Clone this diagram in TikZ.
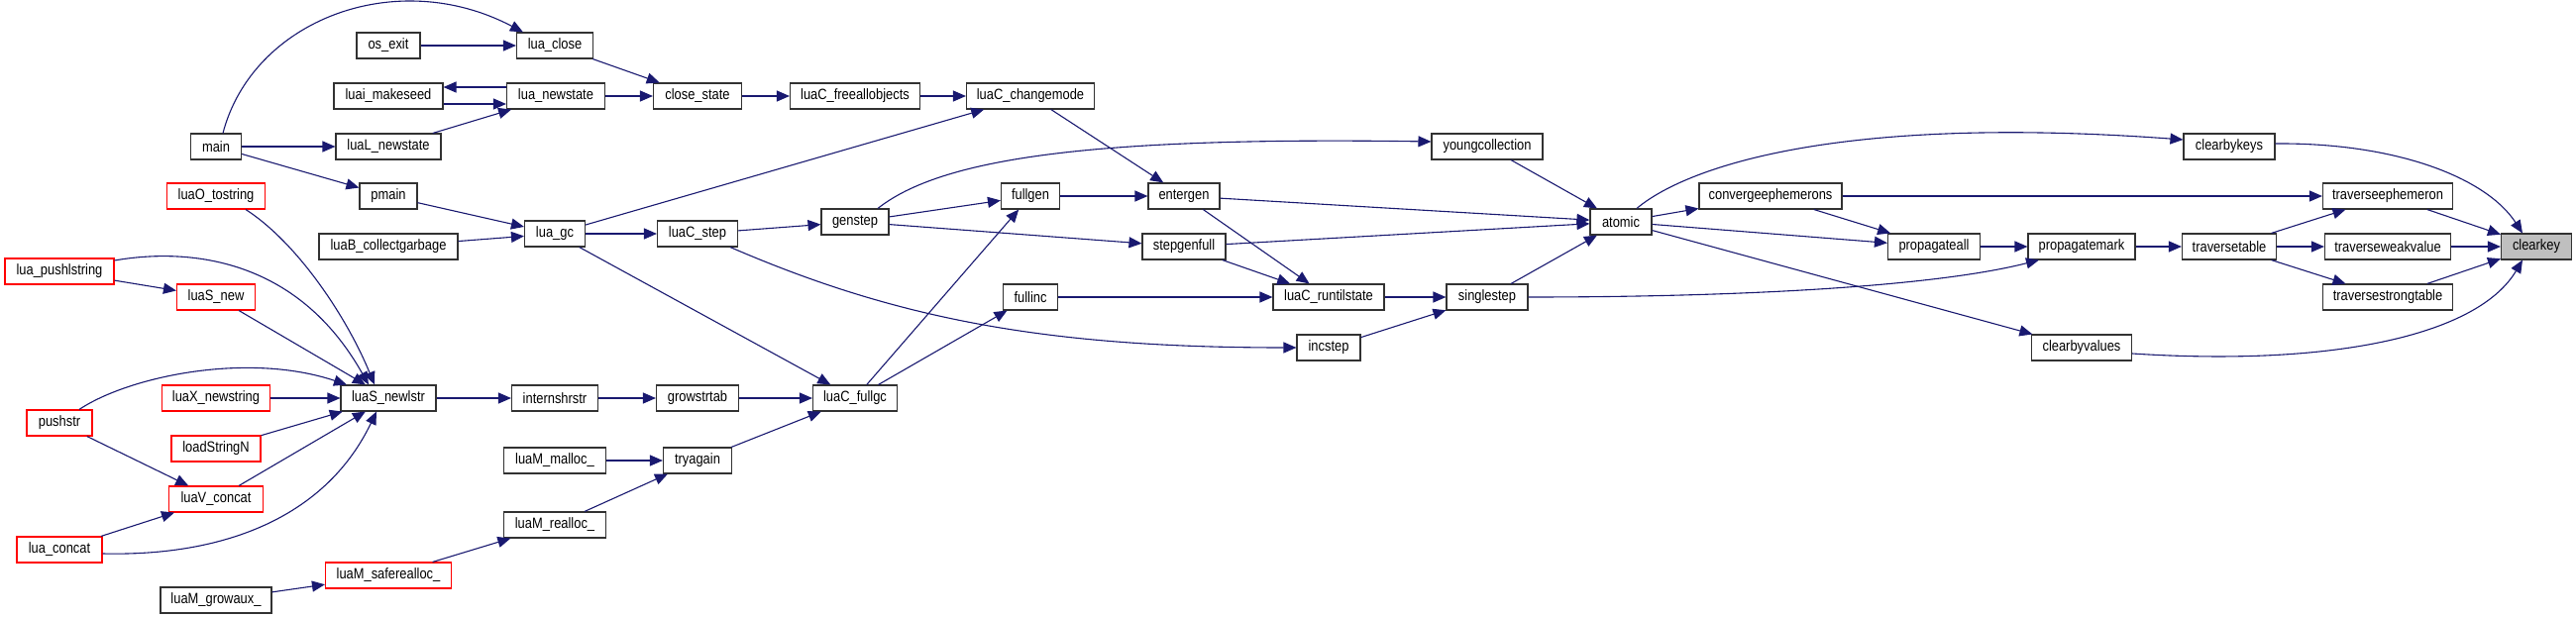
\documentclass[tikz,border=0pt]{standalone}
\usepackage{fontspec}
\setmainfont[FakeStretch=0.86]{Liberation Sans}
\usetikzlibrary{arrows.meta}
\definecolor{edgec}{RGB}{25,25,112}
\definecolor{nodeb}{RGB}{50,50,50}
\definecolor{hil}{RGB}{191,191,191}
\begin{document}
\begin{tikzpicture}[x=1pt,y=-1pt,
  fn/.style={draw=nodeb, line width=1.1pt, fill=white, minimum height=26pt, inner sep=0pt, font=\fontsize{15}{17}\selectfont},
  fnred/.style={fn, draw=red},
  arr/.style={draw=edgec, line width=1.1pt, -{Triangle[length=13pt,width=11pt]}}]
\useasboundingbox[fill=white] (0,0) rectangle (2600,623);
% nodes
\node[fn,minimum width=77pt] (luaclose) at (560,46) {lua\_close};
\node[fn,minimum width=64pt] (osexit) at (392,46) {os\_exit};
\node[fn,minimum width=110pt] (luaimakeseed) at (392,97) {luai\_makeseed};
\node[fn,minimum width=99pt] (luanewstate) at (561,97) {lua\_newstate};
\node[fn,minimum width=51pt] (main) at (218,148) {main};
\node[fn,minimum width=106pt] (luaLnewstate) at (392,148) {luaL\_newstate};
\node[fnred,minimum width=99pt] (luaOtostring) at (218,198) {luaO\_tostring};
\node[fn,minimum width=58pt] (pmain) at (392,198) {pmain};
\node[fn,minimum width=61pt] (luagc) at (560,236) {lua\_gc};
\node[fn,minimum width=140pt] (luaBcollect) at (392,249) {luaB\_collectgarbage};
\node[fnred,minimum width=110pt] (luapushlstring) at (60,274) {lua\_pushlstring};
\node[fnred,minimum width=79pt] (luaSnew) at (218,300) {luaS\_new};
\node[fn,minimum width=96pt] (luaSnewlstr) at (392,402) {luaS\_newlstr};
\node[fnred,minimum width=109pt] (luaXnewstring) at (218,402) {luaX\_newstring};
\node[fn,minimum width=87pt] (internshrstr) at (560,402) {internshrstr};
\node[fnred,minimum width=66pt] (pushstr) at (60,427) {pushstr};
\node[fnred,minimum width=90pt] (loadStringN) at (218,453) {loadStringN};
\node[fnred,minimum width=95pt] (luaVconcat) at (218,504) {luaV\_concat};
\node[fn,minimum width=103pt] (luaMmalloc) at (560,465) {luaM\_malloc\_};
\node[fn,minimum width=103pt] (luaMrealloc) at (560,530) {luaM\_realloc\_};
\node[fnred,minimum width=86pt] (luaconcat) at (60,555) {lua\_concat};
\node[fnred,minimum width=127pt] (luaMsaferealloc) at (392,581) {luaM\_saferealloc\_};
\node[fn,minimum width=112pt] (luaMgrowaux) at (218,606) {luaM\_growaux\_};
\node[fn,minimum width=89pt] (closestate) at (704,97) {close\_state};
\node[fn,minimum width=131pt] (luaCfreeall) at (863,97) {luaC\_freeallobjects};
\node[fn,minimum width=129pt] (luaCchangemode) at (1040,97) {luaC\_changemode};
\node[fn,minimum width=59pt] (fullgen) at (1040,198) {fullgen};
\node[fn,minimum width=72pt] (entergen) at (1195,198) {entergen};
\node[fn,minimum width=68pt] (genstep) at (863,224) {genstep};
\node[fn,minimum width=81pt] (luaCstep) at (704,236) {luaC\_step};
\node[fn,minimum width=84pt] (stepgenfull) at (1195,249) {stepgenfull};
\node[fn,minimum width=55pt] (fullinc) at (1040,300) {fullinc};
\node[fn,minimum width=83pt] (growstrtab) at (704,402) {growstrtab};
\node[fn,minimum width=85pt] (luaCfullgc) at (863,402) {luaC\_fullgc};
\node[fn,minimum width=69pt] (tryagain) at (704,465) {tryagain};
\node[fn,minimum width=64pt] (incstep) at (1341,351) {incstep};
\node[fn,minimum width=112pt] (youngcollection) at (1501,148) {youngcollection};
\node[fn,minimum width=62pt] (atomic) at (1636,224) {atomic};
\node[fn,minimum width=144pt] (converge) at (1787,198) {convergeephemerons};
\node[fn,minimum width=112pt] (luaCruntilstate) at (1341,300) {luaC\_runtilstate};
\node[fn,minimum width=82pt] (singlestep) at (1501,300) {singlestep};
\node[fn,minimum width=93pt] (propagateall) at (1952,249) {propagateall};
\node[fn,minimum width=92pt] (clearbykeys) at (2250,148) {clearbykeys};
\node[fn,minimum width=131pt] (travephemeron) at (2410,198) {traverseephemeron};
\node[fn,minimum width=108pt] (propagatemark) at (2101,249) {propagatemark};
\node[fn,minimum width=95pt] (traversetable) at (2250,249) {traversetable};
\node[fn,minimum width=127pt] (travweak) at (2410,249) {traverseweakvalue};
\node[fn,minimum width=71pt,fill=hil] (clearkey) at (2560,249) {clearkey};
\node[fn,minimum width=131pt] (travstrong) at (2410,300) {traversestrongtable};
\node[fn,minimum width=101pt] (clearbyvalues) at (2101,351) {clearbyvalues};
% edges
\draw[arr] ([yshift=3pt]clearbykeys.east) .. controls (2420,144) and (2510,180) .. ([xshift=-14pt]clearkey.north);
\draw[arr] (travephemeron) -- (clearkey);
\draw[arr] (travweak) -- (clearkey);
\draw[arr] (travstrong) -- (clearkey);
\draw[arr] ([yshift=-6pt]clearbyvalues.east) .. controls (2350,370) and (2500,340) .. ([xshift=-14pt]clearkey.south);
\draw[arr] (traversetable) -- (travephemeron);
\draw[arr] (traversetable) -- (travweak);
\draw[arr] (traversetable) -- (travstrong);
\draw[arr] (propagatemark) -- (traversetable);
\draw[arr] (propagateall) -- (propagatemark);
\draw[arr] (singlestep.east) .. controls (1750,300) and (1950,290) .. ([xshift=-43pt]propagatemark.south);
\draw[arr] ([xshift=16pt]atomic.north) .. controls (1700,170) and (1850,115) .. ([yshift=7pt]clearbykeys.west);
\draw[arr] (converge) -- (travephemeron);
\draw[arr] (converge) -- (propagateall);
\draw[arr] (atomic) -- (converge);
\draw[arr] (atomic) -- (propagateall);
\draw[arr] (atomic) -- (clearbyvalues);
\draw[arr] (youngcollection) -- (atomic);
\draw[arr] (entergen) -- (atomic);
\draw[arr] (stepgenfull) -- (atomic);
\draw[arr] (singlestep) -- (atomic);
\draw[arr] (luaCruntilstate) -- (singlestep);
\draw[arr] (incstep) -- (singlestep);
\draw[arr] (fullinc) -- (luaCruntilstate);
\draw[arr] (entergen) -- (luaCruntilstate);
\draw[arr] (stepgenfull) -- (luaCruntilstate);
\draw[arr] ([xshift=23pt]genstep.north) .. controls (950,160) and (1100,138) .. ([yshift=5pt]youngcollection.west);
\draw[arr] (genstep) -- (fullgen);
\draw[arr] (genstep) -- (stepgenfull);
\draw[arr] (fullgen) -- (entergen);
\draw[arr] (luaCchangemode) -- (entergen);
\draw[arr] (luaCstep) -- (genstep);
\draw[arr] ([xshift=33pt]luaCstep.south) .. controls (900,320) and (1050,351) .. (incstep.west);
\draw[arr] (luaCfullgc) -- (fullgen);
\draw[arr] (luaCfullgc) -- (fullinc);
\draw[arr] (luagc) -- (luaCchangemode);
\draw[arr] (luagc) -- (luaCstep);
\draw[arr] (luagc) -- (luaCfullgc);
\draw[arr] (growstrtab) -- (luaCfullgc);
\draw[arr] (tryagain) -- (luaCfullgc);
\draw[arr] (internshrstr) -- (growstrtab);
\draw[arr] (luaSnewlstr) -- (internshrstr);
\draw[arr] (luaMmalloc) -- (tryagain);
\draw[arr] (luaMrealloc) -- (tryagain);
\draw[arr] (luaMsaferealloc) -- (luaMrealloc);
\draw[arr] (luaMgrowaux) -- (luaMsaferealloc);
\draw[arr] (luaCfreeall) -- (luaCchangemode);
\draw[arr] (closestate) -- (luaCfreeall);
\draw[arr] (luaclose) -- (closestate);
\draw[arr] (luanewstate) -- (closestate);
\draw[arr] (osexit) -- (luaclose);
\draw[arr] ([xshift=7pt]main.north) .. controls (255,20) and (400,-35) .. ([xshift=-32pt]luaclose.north);
\draw[arr] ([yshift=9pt]luanewstate.west) -- ([yshift=9pt]luaimakeseed.east);
\draw[arr] ([yshift=-8pt]luaimakeseed.east) -- ([yshift=-8pt]luanewstate.west);
\draw[arr] (luaLnewstate) -- (luanewstate);
\draw[arr] (main) -- (luaLnewstate);
\draw[arr] (main) -- (pmain);
\draw[arr] (pmain) -- (luagc);
\draw[arr] (luaBcollect) -- (luagc);
\draw[arr] ([xshift=30pt]luaOtostring.south) .. controls (300,245) and (350,320) .. ([xshift=-14pt]luaSnewlstr.north);
\draw[arr] (luapushlstring) -- (luaSnew);
\draw[arr] ([yshift=11pt]luapushlstring.east) .. controls (190,250) and (300,260) .. ([xshift=-20pt]luaSnewlstr.north);
\draw[arr] (luaSnew) -- (luaSnewlstr);
\draw[arr] (luaXnewstring) -- (luaSnewlstr);
\draw[arr] (loadStringN) -- (luaSnewlstr);
\draw[arr] (luaVconcat) -- (luaSnewlstr);
\draw[arr] ([xshift=20pt]pushstr.north) .. controls (130,380) and (250,355) .. ([xshift=-42pt]luaSnewlstr.north);
\draw[arr] (pushstr) -- (luaVconcat);
\draw[arr] (luaconcat) -- (luaVconcat);
\draw[arr] ([yshift=-4pt]luaconcat.east) .. controls (230,562) and (330,520) .. ([xshift=-12pt]luaSnewlstr.south);
\end{tikzpicture}
\end{document}
